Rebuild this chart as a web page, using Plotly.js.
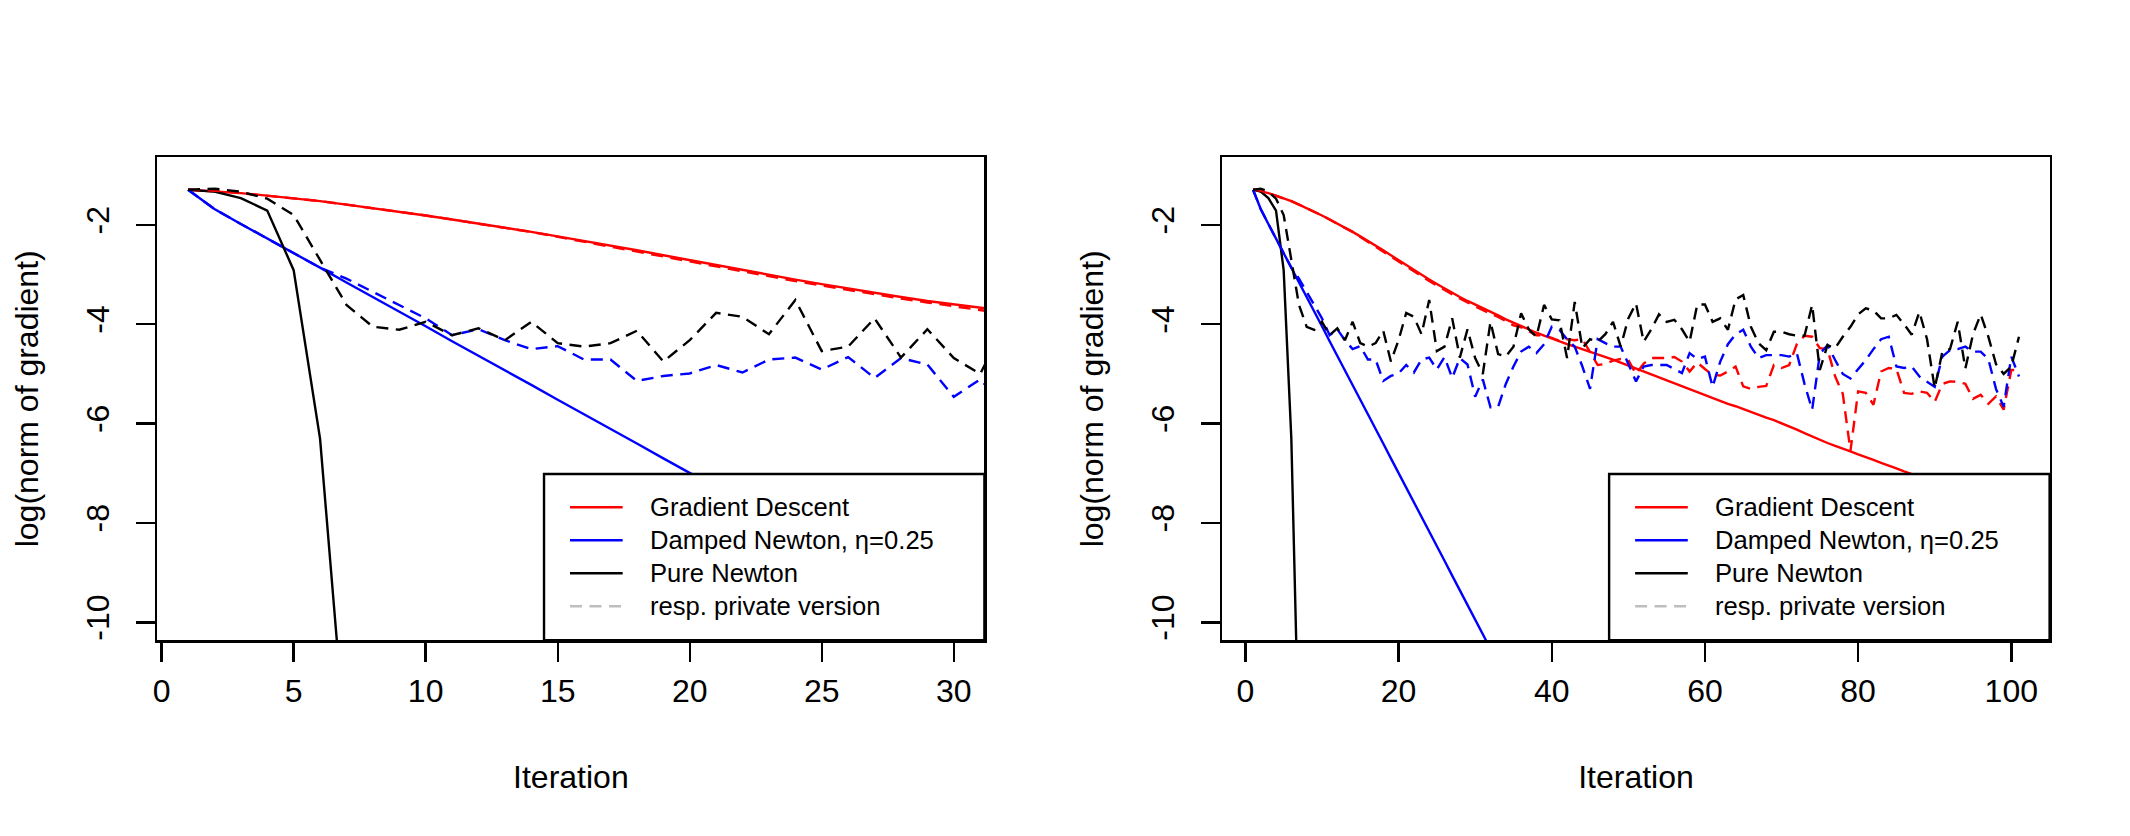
<!DOCTYPE html>
<html>
<head>
<meta charset="utf-8">
<script src="https://cdn.plot.ly/plotly-3.0.1.min.js"></script>
<style>html,body{margin:0;padding:0;background:#fff;}#chart{width:2130px;height:836px;}</style>
</head>
<body>
<div id="chart"></div>
<script>
// ---------------- data ----------------
var iteration = [1,2,3,4,5,6,7,8,9,10,11,12,13,14,15,16,17,18,19,20,
  21,22,23,24,25,26,27,28,29,30,31,32,33,34,35,36,37,38,39,40,
  41,42,43,44,45,46,47,48,49,50,51,52,53,54,55,56,57,58,59,60,
  61,62,63,64,65,66,67,68,69,70,71,72,73,74,75,76,77,78,79,80,
  81,82,83,84,85,86,87,88,89,90,91,92,93,94,95,96,97,98,99,100,101];

// Gradient Descent (exact)
var gdExact = [-1.29,-1.32,-1.36,-1.41,-1.46,-1.52,-1.59,-1.66,-1.73,-1.81,
  -1.89,-1.97,-2.05,-2.14,-2.23,-2.32,-2.42,-2.51,-2.61,-2.71,
  -2.81,-2.91,-3.01,-3.10,-3.19,-3.28,-3.37,-3.45,-3.53,-3.60,
  -3.67,-3.75,-3.82,-3.90,-3.97,-4.04,-4.11,-4.17,-4.23,-4.29,
  -4.35,-4.40,-4.45,-4.50,-4.55,-4.60,-4.65,-4.71,-4.77,-4.83,
  -4.89,-4.95,-5.01,-5.07,-5.13,-5.19,-5.25,-5.31,-5.37,-5.43,
  -5.49,-5.54,-5.60,-5.65,-5.71,-5.76,-5.82,-5.88,-5.93,-5.99,
  -6.05,-6.12,-6.19,-6.26,-6.33,-6.39,-6.45,-6.50,-6.56,-6.62,
  -6.67,-6.73,-6.79,-6.84,-6.90,-6.96,-7.01,-7.07,-7.13,-7.18,
  -7.24,-7.30,-7.35,-7.41,-7.47,-7.52,-7.58,-7.64,-7.69,-7.75,-7.81];

// Gradient Descent (private version)
var gdPrivate = [-1.29,-1.31,-1.36,-1.41,-1.47,-1.52,-1.59,-1.66,-1.74,-1.81,
  -1.89,-1.98,-2.06,-2.14,-2.24,-2.33,-2.43,-2.53,-2.64,-2.74,
  -2.84,-2.94,-3.04,-3.13,-3.22,-3.31,-3.40,-3.48,-3.56,-3.64,
  -3.72,-3.79,-3.85,-3.93,-4.02,-4.06,-4.14,-4.22,-4.22,-4.27,
  -4.33,-4.30,-4.32,-4.30,-4.55,-4.82,-4.80,-4.73,-4.70,-4.72,
  -5.00,-4.79,-4.68,-4.68,-4.68,-4.66,-4.75,-4.95,-4.77,-4.90,
  -5.02,-5.03,-4.95,-4.85,-5.25,-5.30,-5.26,-5.24,-4.82,-4.88,
  -4.82,-4.40,-4.23,-4.25,-4.48,-4.50,-5.05,-5.40,-6.55,-5.35,
  -5.38,-5.62,-4.95,-4.88,-4.90,-5.38,-5.40,-5.35,-5.38,-5.56,
  -5.20,-5.15,-5.16,-5.20,-5.50,-5.42,-5.60,-5.45,-5.72,-4.92,-4.92];

// Damped Newton, eta = 0.25 (exact) - leaves the plot after iteration 32
var dnExact = [-1.29,-1.68,-1.98,-2.27,-2.57,-2.86,-3.16,-3.45,-3.75,-4.04,
  -4.34,-4.63,-4.93,-5.22,-5.52,-5.81,-6.11,-6.40,-6.70,-6.99,
  -7.29,-7.58,-7.88,-8.17,-8.47,-8.76,-9.06,-9.35,-9.65,-9.94,
  -10.24,-10.53,-10.83];

// Damped Newton (private version)
var dnPrivate = [-1.29,-1.68,-1.98,-2.27,-2.57,-2.86,-3.08,-3.35,-3.62,-3.88,
  -4.22,-4.10,-4.32,-4.50,-4.44,-4.71,-4.71,-5.14,-5.04,-4.99,
  -4.82,-4.97,-4.71,-4.67,-4.91,-4.66,-5.08,-4.68,-4.81,-5.46,
  -5.11,-5.67,-5.66,-5.20,-4.85,-4.55,-4.45,-4.58,-4.40,-4.05,
  -4.11,-4.30,-4.45,-4.85,-5.30,-4.30,-4.38,-4.45,-4.45,-4.80,
  -5.15,-4.85,-4.82,-4.82,-4.82,-4.90,-4.98,-4.58,-4.70,-4.65,
  -5.26,-4.75,-4.40,-4.20,-4.11,-4.45,-4.68,-4.62,-4.62,-4.62,
  -4.65,-4.58,-5.20,-5.72,-4.60,-4.42,-4.72,-5.00,-5.09,-4.90,
  -4.72,-4.50,-4.30,-4.25,-4.85,-4.88,-4.85,-5.05,-5.15,-5.26,
  -4.65,-4.52,-4.50,-4.45,-4.55,-4.55,-4.70,-5.30,-5.66,-4.65,-5.05];

// Pure Newton (exact) - leaves the plot after iteration 6
var pnExact = [-1.29,-1.33,-1.46,-1.71,-2.91,-6.30,-12.7];

// Pure Newton (private version)
var pnPrivate = [-1.29,-1.27,-1.33,-1.47,-1.80,-2.70,-3.61,-4.05,-4.11,-3.95,
  -4.22,-4.08,-4.32,-3.95,-4.38,-4.45,-4.38,-4.13,-4.75,-4.32,
  -3.77,-3.85,-4.20,-3.51,-4.54,-4.45,-3.88,-4.67,-4.10,-4.68,
  -5.00,-3.95,-4.60,-4.65,-4.45,-3.78,-4.10,-4.25,-3.61,-3.90,
  -3.92,-4.68,-3.55,-4.48,-4.30,-4.35,-4.20,-3.95,-4.45,-3.88,
  -3.58,-4.35,-4.10,-3.80,-3.95,-3.91,-4.10,-4.35,-3.60,-3.60,
  -3.95,-3.88,-4.11,-3.50,-3.41,-4.05,-4.38,-4.52,-4.15,-4.15,
  -4.20,-4.23,-4.23,-3.61,-4.92,-4.42,-4.48,-4.25,-4.05,-3.80,
  -3.68,-3.72,-3.88,-3.88,-3.81,-4.00,-4.21,-3.75,-4.30,-5.29,
  -4.55,-4.50,-3.95,-4.89,-4.20,-3.80,-4.25,-4.80,-5.00,-4.85,-4.25];

var legendLabels = ["Gradient Descent", "Damped Newton, \u03b7=0.25", "Pure Newton", "resp. private version"];
var xTicksLeft = [0, 5, 10, 15, 20, 25, 30];
var xTicksRight = [0, 20, 40, 60, 80, 100];
var yTickVals = [-10, -8, -6, -4, -2];
var yTickText = ["-10", "-8", "-6", "-4", "-2"];
var xTitle = "Iteration";
var yTitle = "log(norm of gradient)";

// ---------------- styling / layout ----------------
var RED = "#FF0000", BLUE = "#0000FF", BLACK = "#000000", GRAY = "#BEBEBE";
var FONT = "Liberation Sans, Arial, Helvetica, sans-serif";
var W = 2130, H = 836;
var boxTop = 157.4, boxBottom = 640.2;
var LW = 2.4;
var DASH = "12px,7.5px";

var traces = [];
function addPanel(xa, ya) {
  function tr(y, color, dash) {
    traces.push({
      x: iteration.slice(0, y.length), y: y, xaxis: xa, yaxis: ya,
      type: "scatter", mode: "lines", hoverinfo: "skip", showlegend: false,
      line: {color: color, width: LW, dash: dash}
    });
  }
  tr(gdExact, RED, "solid");
  tr(dnExact, BLUE, "solid");
  tr(pnExact, BLACK, "solid");
  tr(gdPrivate, RED, DASH);
  tr(dnPrivate, BLUE, DASH);
  tr(pnPrivate, BLACK, DASH);
}
addPanel("x", "y");
addPanel("x2", "y2");

function xAxis(domainPx, range, ticks, anchor) {
  return {
    domain: [domainPx[0] / W, domainPx[1] / W], range: range, anchor: anchor,
    tickmode: "array", tickvals: ticks, ticktext: ticks.map(String),
    showgrid: false, zeroline: false, showline: true, linecolor: BLACK, linewidth: 2.4, mirror: true,
    ticks: "outside", ticklen: 19, tickwidth: 2.4, tickcolor: BLACK,
    tickfont: {family: FONT, size: 32, color: BLACK}, ticklabelstandoff: 2,
    title: {text: xTitle, font: {family: FONT, size: 32, color: BLACK}, standoff: 58},
    fixedrange: true
  };
}
function yAxis(anchor) {
  return {
    domain: [(H - boxBottom) / H, (H - boxTop) / H], range: [-10.36, -0.64], anchor: anchor,
    tickmode: "array", tickvals: yTickVals, ticktext: yTickText, tickangle: -90,
    showgrid: false, zeroline: false, showline: true, linecolor: BLACK, linewidth: 2.4, mirror: true,
    ticks: "outside", ticklen: 19, tickwidth: 2.4, tickcolor: BLACK,
    tickfont: {family: FONT, size: 32, color: BLACK}, ticklabelstandoff: 14,
    title: {text: yTitle, font: {family: FONT, size: 32, color: BLACK}, standoff: 32},
    fixedrange: true
  };
}

var shapes = [], annotations = [];
function addLegend(xa, ya) {
  var xr = xa + " domain", yr = ya + " domain";
  shapes.push({type: "rect", xref: xr, yref: yr, x0: 0.4675, x1: 1, y0: 0, y1: 0.3442,
    fillcolor: "white", line: {color: BLACK, width: 2.4}, layer: "above"});
  var rows = [0.2755, 0.2071, 0.1388, 0.0704];
  var cols = [RED, BLUE, BLACK, GRAY];
  var dashes = ["solid", "solid", "solid", DASH];
  for (var i = 0; i < 4; i++) {
    shapes.push({type: "line", xref: xr, yref: yr, x0: 0.4989, x1: 0.5626, y0: rows[i], y1: rows[i],
      line: {color: cols[i], width: LW, dash: dashes[i]}, layer: "above"});
    annotations.push({xref: xr, yref: yr, x: 0.5930, y: rows[i], xanchor: "left", yanchor: "middle",
      text: legendLabels[i], showarrow: false, font: {family: FONT, size: 25.6, color: BLACK}});
  }
}
addLegend("x", "y");
addLegend("x2", "y2");

var layout = {
  width: W, height: H,
  margin: {l: 0, r: 0, t: 0, b: 0},
  paper_bgcolor: "white", plot_bgcolor: "white",
  showlegend: false,
  font: {family: FONT, size: 32, color: BLACK},
  xaxis: xAxis([157.4, 984.4], [-0.16, 31.16], xTicksLeft, "y"),
  yaxis: yAxis("x"),
  xaxis2: xAxis([1222.4, 2049.6], [-3, 105], xTicksRight, "y2"),
  yaxis2: yAxis("x2"),
  shapes: shapes,
  annotations: annotations
};

Plotly.newPlot("chart", traces, layout, {staticPlot: true, displayModeBar: false});
</script>
</body>
</html>
